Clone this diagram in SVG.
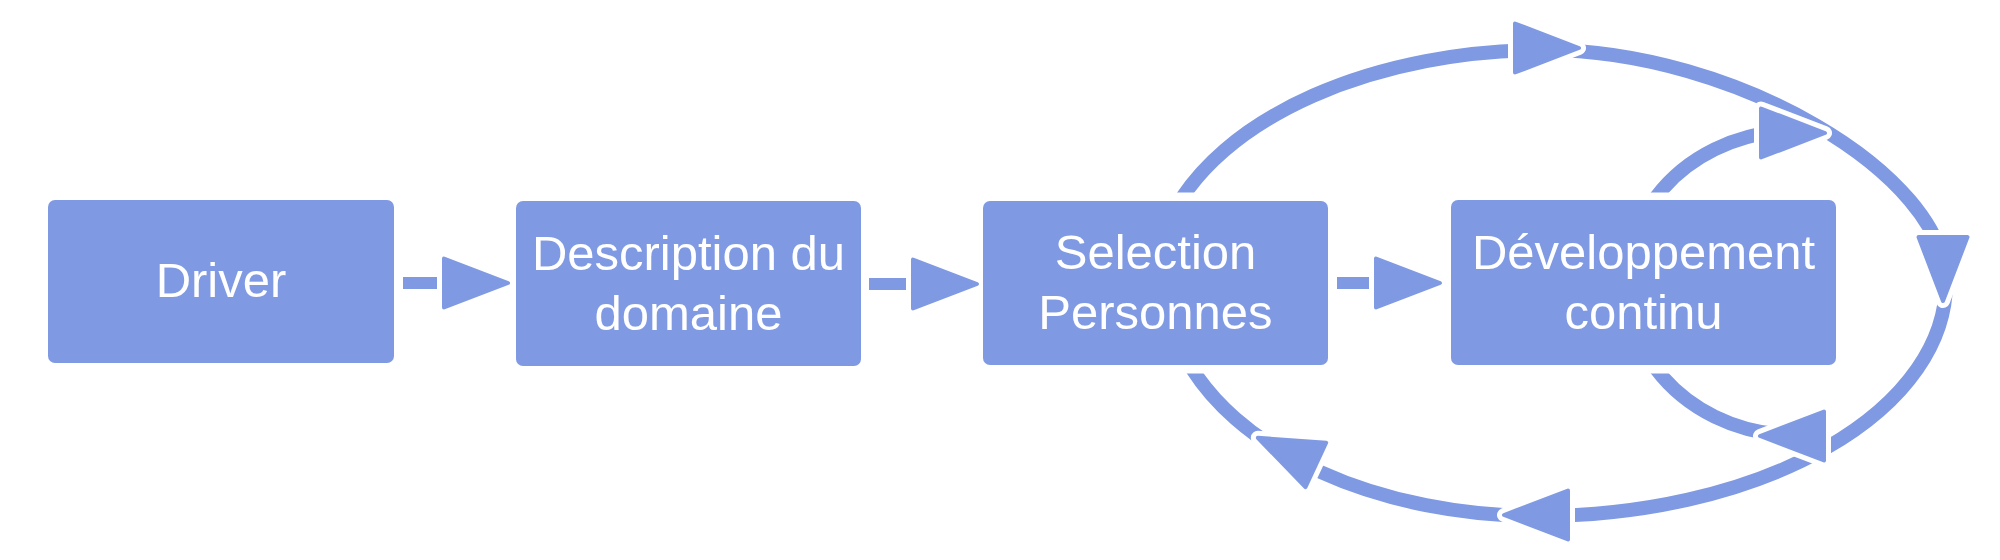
<svg xmlns="http://www.w3.org/2000/svg" width="2000" height="560" viewBox="0 0 2000 560">
<style>
.box{fill:#7f99e3}
.lbl{font-family:"Liberation Sans",Arial,Helvetica,sans-serif;font-size:49px;fill:#ffffff;text-anchor:middle}
.ln{fill:none;stroke:#7f99e3;stroke-width:12}
.arc{fill:none;stroke:#7f99e3;stroke-width:14}
.halo{fill:#ffffff;stroke:#ffffff;stroke-width:14;stroke-linejoin:round}
.head{fill:#7f99e3;stroke:#7f99e3;stroke-width:4;stroke-linejoin:round}
</style>
<defs>
<path id="ah" d="M-2,0 L-66,-24.5 L-66,24.5 Z"/>
<clipPath id="cut">
<rect x="0" y="0" width="2000" height="192.5"/>
<rect x="0" y="373.5" width="2000" height="186.5"/>
<rect x="1880" y="0" width="120" height="560"/>
</clipPath>
</defs>
<rect width="2000" height="560" fill="#ffffff"/>
<g id="connectors">
<path class="ln" d="M403,283 H470"/>
<path class="ln" d="M869,284 H940"/>
<path class="ln" d="M1337,283 H1400"/>
<g clip-path="url(#cut)">
<path class="arc" d="M1172,215 A390,233 0 0 1 1545,50 C1733.5,50 1946,173.5 1946,283 A408,233 0 0 1 1538,516 A372,233 0 0 1 1184.2,355"/>
<path class="arc" d="M1654,200 A168,152 0 0 1 1795,131"/>
<path class="arc" d="M1654,366 A168,152 0 0 0 1795,435"/>
</g>
<g transform="translate(510,283)"><use href="#ah" class="halo"/><use href="#ah" class="head"/></g>
<g transform="translate(979,284)"><use href="#ah" class="halo"/><use href="#ah" class="head"/></g>
<g transform="translate(1442,283)"><use href="#ah" class="halo"/><use href="#ah" class="head"/></g>
<g transform="translate(1581,48)"><use href="#ah" class="halo"/><use href="#ah" class="head"/></g>
<g transform="translate(1943,303) rotate(90)"><use href="#ah" class="halo"/><use href="#ah" class="head"/></g>
<g transform="translate(1758,436) rotate(180)"><use href="#ah" class="halo"/><use href="#ah" class="head"/></g>
<g transform="translate(1502,515) rotate(180)"><use href="#ah" class="halo"/><use href="#ah" class="head"/></g>
<g transform="translate(1827,133)"><use href="#ah" class="halo"/><use href="#ah" class="head"/></g>
<g transform="translate(1256,437) rotate(205)"><use href="#ah" class="halo"/><use href="#ah" class="head"/></g>
</g>
<g id="n-driver">
<rect class="box" x="48" y="200" width="346" height="163" rx="7"/>
<text class="lbl" x="221" y="297">Driver</text>
</g>
<g id="n-description">
<rect class="box" x="516" y="201" width="345" height="165" rx="7"/>
<text class="lbl" x="688.5" y="270">Description du</text>
<text class="lbl" x="688.5" y="330">domaine</text>
</g>
<g id="n-selection">
<rect class="box" x="983" y="201" width="345" height="164" rx="7"/>
<text class="lbl" x="1155.5" y="269">Selection</text>
<text class="lbl" x="1155.5" y="329">Personnes</text>
</g>
<g id="n-developpement">
<rect class="box" x="1451" y="200" width="385" height="165" rx="7"/>
<text class="lbl" x="1643.5" y="269">Développement</text>
<text class="lbl" x="1643.5" y="329">continu</text>
</g>
</svg>
